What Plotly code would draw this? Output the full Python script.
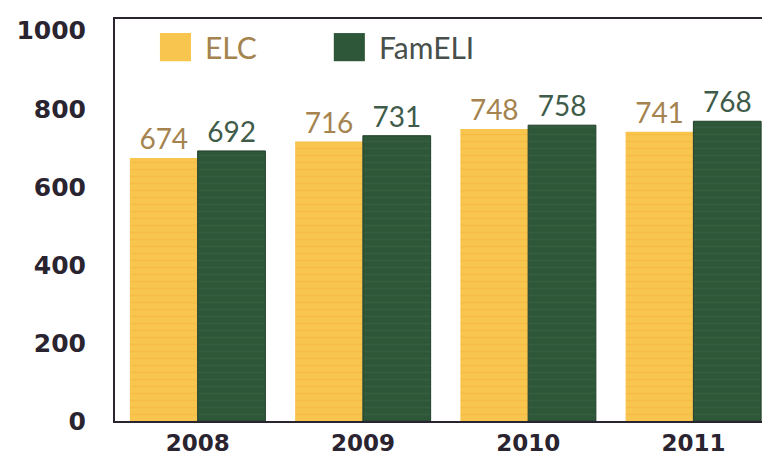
import plotly.graph_objects as go

years = ["2008", "2009", "2010", "2011"]
elc = [674, 716, 748, 741]
fameli = [692, 731, 758, 768]
series_names = ["ELC", "FamELI"]
y_ticks = [0, 200, 400, 600, 800, 1000]

ELC_COL = "#F8C64E"
ELC_STRIPE = "#F3B23C"
FAM_COL = "#2E5638"
FAM_STRIPE = "#3A6546"
ELC_TXT = "#A5834F"
FAM_TXT = "#3F5B4A"
FAM_LEG_TXT = "#48504B"
DARK = "#2A2430"

fig = go.Figure()
fig.add_trace(go.Bar(
    x=years, y=elc, name=series_names[0],
    marker=dict(color=ELC_COL, line=dict(width=0),
                pattern=dict(shape="-", fgcolor=ELC_STRIPE, bgcolor=ELC_COL, size=7, solidity=0.25)),
    text=[str(v) for v in elc], textposition="outside",
    textfont=dict(family="Lato", size=28, color=ELC_TXT),
    showlegend=False,
))
fig.add_trace(go.Bar(
    x=years, y=fameli, name=series_names[1],
    marker=dict(color=FAM_COL, line=dict(width=1, color="#22402B"),
                pattern=dict(shape="-", fgcolor=FAM_STRIPE, bgcolor=FAM_COL, size=7, solidity=0.25)),
    text=[str(v) for v in fameli], textposition="outside",
    textfont=dict(family="Lato", size=28, color=FAM_TXT),
    showlegend=False,
))

# custom legend (swatches + text)
legend_items = [(series_names[0], ELC_COL, ELC_TXT, 0.068), (series_names[1], FAM_COL, FAM_LEG_TXT, 0.331)]
for name, col, tcol, x0 in legend_items:
    fig.add_shape(type="rect", xref="paper", yref="paper",
                  x0=x0, x1=x0 + 0.047, y0=0.895, y1=0.965,
                  fillcolor=col, line=dict(width=0))
    fig.add_annotation(xref="paper", yref="paper", x=x0 + 0.065, y=0.93,
                       text=name, showarrow=False, xanchor="left", yanchor="middle",
                       font=dict(family="Lato", size=30, color=tcol))

fig.update_layout(
    width=770, height=457,
    margin=dict(l=107, r=2, t=11, b=44),
    paper_bgcolor="white", plot_bgcolor="white",
    barmode="group", bargap=0.18, bargroupgap=0,
)
fig.update_xaxes(
    showline=True, linecolor=DARK, linewidth=2, mirror=True,
    showgrid=False, ticks="", ticklabelstandoff=0,
    tickfont=dict(family="DejaVu Sans", size=23, color=DARK, weight="bold"),
)
fig.update_yaxes(
    range=[0, 1030], tickvals=y_ticks,
    showline=True, linecolor=DARK, linewidth=2, mirror=False,
    showgrid=False, zeroline=False, ticks="", ticklabelstandoff=22,
    tickfont=dict(family="DejaVu Sans", size=25, color=DARK, weight="bold"),
)
fig.write_html("out.html")
